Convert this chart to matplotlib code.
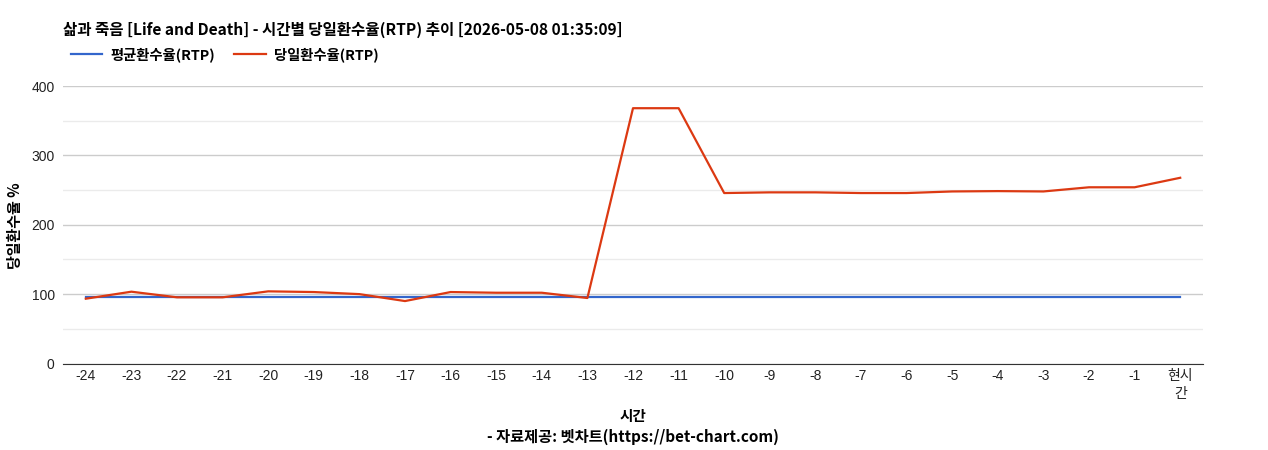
import matplotlib
matplotlib.use("Agg")
import matplotlib.pyplot as plt
from matplotlib.ticker import MultipleLocator

plt.rcParams['font.family'] = ['Liberation Sans', 'Noto Sans CJK KR', 'DejaVu Sans']

# data
hours = ['-24', '-23', '-22', '-21', '-20', '-19', '-18', '-17', '-16', '-15', '-14', '-13',
         '-12', '-11', '-10', '-9', '-8', '-7', '-6', '-5', '-4', '-3', '-2', '-1', '현시\n간']
avg_rtp = [96.5] * len(hours)
day_rtp = [93.4, 103.5, 95.4, 95.4, 104, 103, 100, 90, 103, 102, 102, 94.4,
           368, 368, 245.7, 246.7, 246.7, 245.7, 245.7, 248, 248.5, 248, 254, 254, 267.7]

title = '삶과 죽음 [Life and Death] - 시간별 당일환수율(RTP) 추이 [2026-05-08 01:35:09]'
kr = ['Noto Sans CJK KR', 'DejaVu Sans']

fig = plt.figure(figsize=(12.68, 4.5), dpi=100)
ax = fig.add_axes([63 / 1268, 1 - 363.5 / 450, 1140 / 1268, 277.5 / 450])

x = list(range(len(hours)))
ax.plot(x, avg_rtp, color='#3366cc', lw=1.6, label='평균환수율(RTP)', zorder=3)
ax.plot(x, day_rtp, color='#dc3912', lw=1.6, label='당일환수율(RTP)', zorder=4)

ax.set_xlim(-0.5, len(hours) - 0.5)
ax.set_ylim(0, 400)
ax.yaxis.set_major_locator(MultipleLocator(100))
ax.yaxis.set_minor_locator(MultipleLocator(50))
ax.grid(axis='y', which='major', color='#cccccc', lw=1)
ax.grid(axis='y', which='minor', color='#ebebeb', lw=1)
ax.set_axisbelow(True)
for s in ['top', 'right', 'left']:
    ax.spines[s].set_visible(False)
ax.spines['bottom'].set_color('#333333')
ax.spines['bottom'].set_zorder(5)
ax.tick_params(axis='both', which='both', length=0, labelsize=10, colors='#222222')
ax.tick_params(axis='x', pad=4)
ax.tick_params(axis='y', pad=6)
ax.set_xticks(x)
ax.set_xticklabels(hours, linespacing=1.35)

ax.set_xlabel('시간', fontsize=10.5, fontweight='bold', family=kr, labelpad=5)
fig.text(0.5 * (63 + 1203) / 1268, 1 - 437 / 450, '- 자료제공: 벳차트(https://bet-chart.com)',
         ha='center', va='center', fontsize=11, fontweight='bold', family=kr)
fig.text(15 / 1268, 1 - 226 / 450, '당일환수율 %', rotation=90, ha='center', va='center',
         fontsize=10.8, fontweight='bold', family=kr)
fig.text(63 / 1268, 1 - 30 / 450, title, ha='left', va='center',
         fontsize=11.2, fontweight='bold', family=kr)

leg = fig.legend(loc='center left', bbox_to_anchor=(58 / 1268, 1 - 55 / 450), ncol=2,
                 frameon=False, handlelength=2.2, handletextpad=0.6, columnspacing=1.3,
                 prop={'family': kr, 'weight': 'bold', 'size': 10.3})

fig.savefig('out.png', dpi=100)
